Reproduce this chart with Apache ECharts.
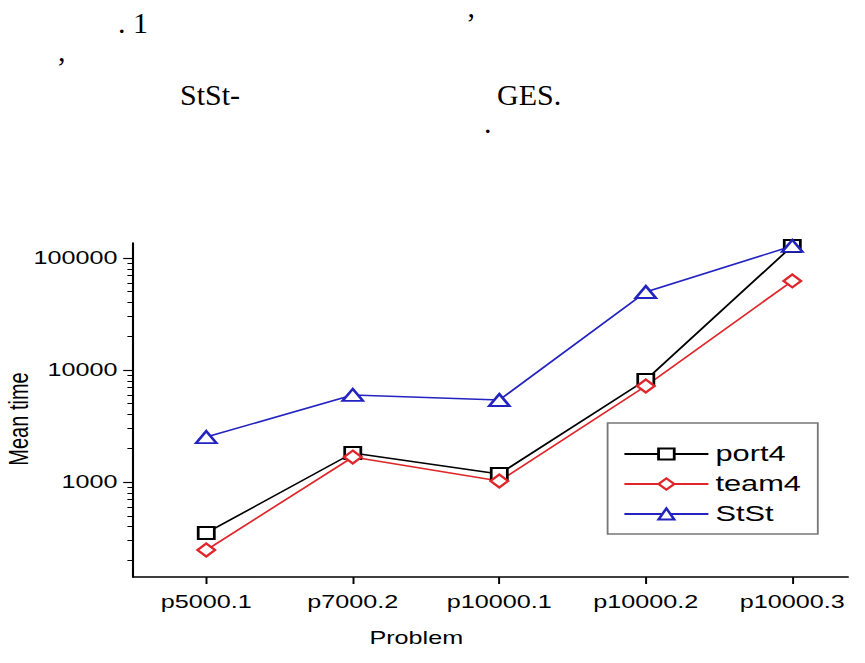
<!DOCTYPE html>
<html>
<head>
<meta charset="utf-8">
<script src="https://cdn.jsdelivr.net/npm/echarts@6/dist/echarts.min.js"></script>
<style>
html,body{margin:0;padding:0;background:#fff;overflow:hidden;}
#main{width:618px;height:663px;transform:scaleX(1.4);transform-origin:0 0;}
</style>
</head>
<body>
<div id="main"></div>
<script>
// the scanned figure is stretched sideways, so the chart is drawn narrow and stretched by CSS
var SX=1.4;

var problems=['p5000.1','p7000.2','p10000.1','p10000.2','p10000.3'];
var port4=[351,1815,1180,8150,128000];
var team4=[247,1670,1020,7200,62400];
var stst=[2520,5990,5400,49700,128000];

var yMin=142, yMax=136000;
var majorTicks=[1000,10000,100000];
var minorTicks=[200,300,400,500,600,700,800,900,2000,3000,4000,5000,6000,7000,8000,9000,20000,30000,40000,50000,60000,70000,80000,90000];

// text fragments of the scanned page above the chart: [text, x, y] in picture pixels
var pageText=[
	['. 1',118,22],
	['\u2019',466,22],
	[',',58,50],
	['StSt-',180,94],
	['GES.',497,94],
	['.',484,122]
];

var myChart=echarts.init(document.getElementById('main'),null,{renderer:'svg'});

function pairs(arr){
	return arr.map(function(v,i){return [i,v];});
}
function lg(arr){
	return arr.map(function(v){return Math.log10(v);});
}

var font='Liberation Sans';

function makeSeries(name,data,color,symbol,size){
	return {
		name:name,
		type:'line',
		data:pairs(data),
		symbol:symbol,
		symbolSize:size,
		color:color,
		lineStyle:{color:color,width:1.5},
		itemStyle:{color:color,borderColor:color,borderWidth:1.6},
		emphasis:{disabled:true},
		z:3
	};
}

var hiddenY={
	type:'value',
	position:'left',
	min:Math.log10(yMin),
	max:Math.log10(yMax),
	axisLine:{show:false,onZero:false},
	axisLabel:{show:false},
	splitLine:{show:false}
};

var option={
	animation:false,
	backgroundColor:'#fff',
	grid:{left:95,right:12.3,top:243,bottom:86,containLabel:false,outerBoundsMode:'none'},
	legend:{
		orient:'vertical',
		left:434,
		top:423,
		itemWidth:60,
		itemHeight:14,
		itemGap:8,
		padding:[20,12,9,11],
		borderColor:'#777',
		borderWidth:1.3,
		backgroundColor:'#fff',
		textStyle:{fontFamily:font,fontSize:22,color:'#000'},
		data:['port4','team4','StSt']
	},
	xAxis:{
		type:'value',
		min:-0.5,
		max:4.38,
		name:'Problem',
		nameLocation:'middle',
		nameGap:52,
		nameMoveOverlap:false,
		nameTextStyle:{fontFamily:font,fontSize:18,color:'#000',padding:[0,106,0,0]},
		axisLine:{onZero:false,lineStyle:{color:'#000',width:1.6}},
		axisTick:{customValues:[0,1,2,3,4],length:7,lineStyle:{color:'#000',width:1.4}},
		axisLabel:{
			customValues:[0,1,2,3,4],
			margin:16,
			fontFamily:font,fontSize:18,color:'#000',
			formatter:function(v){return problems[Math.round(v)];}
		},
		splitLine:{show:false}
	},
	yAxis:[{
		type:'log',
		logBase:10,
		min:yMin,
		max:yMax,
		name:'Mean time',
		nameLocation:'middle',
		nameGap:72,
		nameMoveOverlap:false,
		nameTextStyle:{fontFamily:font,fontSize:20,color:'#000',padding:[0,18,0,0]},
		axisLine:{show:true,onZero:false,lineStyle:{color:'#000',width:1.5}},
		axisTick:{show:false},
		axisLabel:{
			margin:11,
			fontFamily:font,fontSize:18,color:'#000',
			formatter:function(v){
				var e=Math.log10(v);
				return Math.abs(e-Math.round(e))<1e-6?String(Math.round(v)):'';
			}
		},
		splitLine:{show:false}
	},
	Object.assign({},hiddenY,{axisTick:{customValues:lg(majorTicks),length:7,lineStyle:{color:'#000',width:1.2}}}),
	Object.assign({},hiddenY,{axisTick:{customValues:lg(minorTicks),length:4,lineStyle:{color:'#000',width:1}}})
	],
	graphic:pageText.map(function(t){
		return {
			type:'text',
			x:t[1]/SX,
			y:t[2],
			scaleX:1/SX,
			silent:true,
			style:{text:t[0],fontFamily:'Liberation Serif',fontSize:30,fill:'#000',verticalAlign:'middle'}
		};
	}),
	series:[
		makeSeries('port4',port4,'#000000','emptyRect',[11.5,12]),
		makeSeries('team4',team4,'#e0262a','emptyDiamond',[12.5,13]),
		makeSeries('StSt',stst,'#2323c0','emptyTriangle',[14.5,12])
	]
};
myChart.setOption(option);
</script>
</body>
</html>
